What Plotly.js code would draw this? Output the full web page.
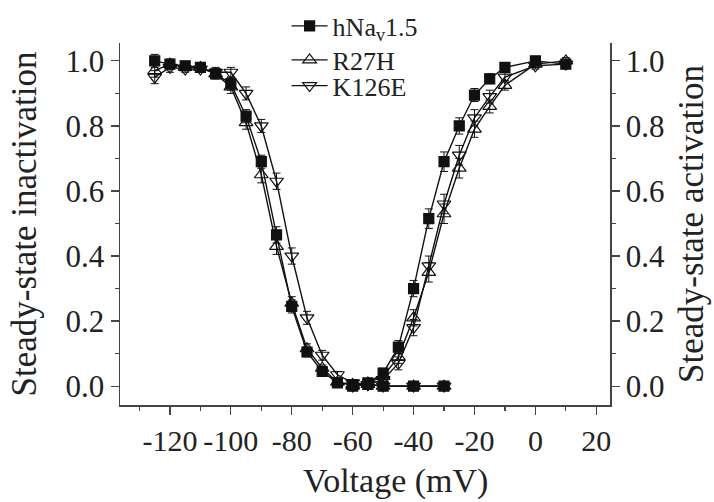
<!DOCTYPE html>
<html>
<head>
<meta charset="utf-8">
<script src="https://cdn.plot.ly/plotly-3.0.1.min.js"></script>
<style>html,body{margin:0;padding:0;background:#fff;}#chart{width:714px;height:502px;}</style>
</head>
<body>
<div id="chart"></div>
<script>
// Steady-state inactivation (left axis)
var inactVoltage = [-125,-120,-115,-110,-105,-100,-95,-90,-85,-80,-75,-70,-65,-60,-55,-50,-40,-30];
var inactWT    = [1.00,0.99,0.985,0.98,0.96,0.93,0.83,0.69,0.465,0.245,0.105,0.045,0.01,0.005,0.005,0.0,0.0,0.0];
var inactWTerr = [0.02,0.015,0.01,0.01,0.015,0.02,0.02,0.02,0.025,0.02,0.015,0.01,0.01,0.01,0.01,0.01,0.01,0.01];
var inactR27H    = [0.97,0.99,0.98,0.98,0.96,0.92,0.81,0.65,0.43,0.255,0.115,0.055,0.012,0.005,0.005,0.0,0.0,0.0];
var inactR27Herr = [0.02,0.015,0.01,0.01,0.015,0.02,0.02,0.025,0.025,0.02,0.015,0.01,0.01,0.01,0.01,0.01,0.01,0.01];
var inactK126E    = [0.95,0.98,0.975,0.975,0.965,0.965,0.90,0.80,0.63,0.40,0.21,0.095,0.035,0.01,0.005,0.0,0.0,0.0];
var inactK126Eerr = [0.02,0.015,0.01,0.01,0.015,0.015,0.02,0.02,0.025,0.025,0.02,0.015,0.01,0.01,0.01,0.01,0.01,0.01];

// Steady-state activation (right axis)
var actVoltage = [-60,-55,-50,-45,-40,-35,-30,-25,-20,-15,-10,0,10];
var actWT    = [0.0,0.01,0.04,0.12,0.30,0.515,0.69,0.80,0.895,0.945,0.98,1.0,0.99];
var actWTerr = [0.01,0.01,0.015,0.02,0.025,0.03,0.03,0.025,0.02,0.015,0.01,0.01,0.01];
var actR27H    = [0.0,0.01,0.03,0.09,0.21,0.35,0.53,0.67,0.79,0.86,0.925,0.99,1.0];
var actR27Herr = [0.01,0.01,0.015,0.02,0.025,0.03,0.03,0.03,0.025,0.02,0.015,0.01,0.01];
var actK126E    = [0.0,0.005,0.02,0.07,0.18,0.37,0.56,0.71,0.825,0.89,0.95,0.985,0.99];
var actK126Eerr = [0.01,0.01,0.015,0.02,0.025,0.03,0.03,0.03,0.025,0.02,0.015,0.01,0.01];

var seriesNames = ['hNa<sub>v</sub>1.5', 'R27H', 'K126E'];
var symbols = ['square', 'triangle-up-open', 'triangle-down-open'];
var legendIds = ['legend', 'legend2', 'legend3'];

function mk(x, y, err, i, axis, show) {
  return {
    x: x, y: y, type: 'scatter', mode: 'lines+markers',
    name: seriesNames[i], legendgroup: 'g' + i, showlegend: show, legend: legendIds[i],
    yaxis: axis,
    line: {color: '#111', width: 1.4},
    marker: {symbol: symbols[i], size: i === 0 ? 10 : 12, color: '#111', line: {color: '#111', width: 1.2}},
    error_y: {type: 'data', array: err, visible: true, color: '#111', thickness: 1, width: 4}
  };
}

var data = [
  mk(inactVoltage, inactWT, inactWTerr, 0, 'y', true),
  mk(inactVoltage, inactR27H, inactR27Herr, 1, 'y', true),
  mk(inactVoltage, inactK126E, inactK126Eerr, 2, 'y', true),
  mk(actVoltage, actWT, actWTerr, 0, 'y2', false),
  mk(actVoltage, actR27H, actR27Herr, 1, 'y2', false),
  mk(actVoltage, actK126E, actK126Eerr, 2, 'y2', false)
];

var fontFam = 'Liberation Serif, Times New Roman, serif';
var yTicks = [0, 0.2, 0.4, 0.6, 0.8, 1.0];
var yTickText = ['0.0', '0.2', '0.4', '0.6', '0.8', '1.0'];

var yBase = {
  range: [-0.058, 1.055], tickvals: yTicks, ticktext: yTickText,
  ticks: 'outside', ticklen: 8, tickwidth: 1.2, tickcolor: '#444',
  showline: true, linecolor: '#444', linewidth: 1.5,
  showgrid: false, zeroline: false,
  tickfont: {family: fontFam, size: 31, color: '#222'},
  minor: {dtick: 0.1, ticks: 'outside', ticklen: 4, tickcolor: '#444', showgrid: false}
};

function leg(yc) {
  return {x: 0.34, y: yc, xanchor: 'left', yanchor: 'middle', bgcolor: 'rgba(0,0,0,0)',
          font: {family: fontFam, size: 26, color: '#222'}, itemwidth: 36,
          borderwidth: 0};
}

var layout = {
  width: 714, height: 502,
  margin: {l: 120, r: 104, t: 43, b: 97, autoexpand: false},
  paper_bgcolor: '#fff', plot_bgcolor: '#fff',
  font: {family: fontFam, color: '#222'},
  showlegend: true,
  legend: leg(1.047),
  legend2: leg(0.953),
  legend3: leg(0.882),
  xaxis: {
    range: [-136.4, 24.5], tickvals: [-120,-100,-80,-60,-40,-20,0,20],
    ticktext: ['-120','-100','-80','-60','-40','-20','0','20'],
    ticks: 'outside', ticklen: 8, tickwidth: 1.2, tickcolor: '#444',
    showline: true, linecolor: '#444', linewidth: 1.5,
    showgrid: false, zeroline: false,
    tickfont: {family: fontFam, size: 30, color: '#222'},
    minor: {dtick: 10, ticks: 'outside', ticklen: 4, tickcolor: '#444', showgrid: false}
  },
  yaxis: Object.assign({}, yBase, {
    side: 'left',
    title: {text: 'Steady-state inactivation', font: {family: fontFam, size: 35, color: '#222'}, standoff: 18}
  }),
  yaxis2: Object.assign({}, yBase, {
    side: 'right', overlaying: 'y',
    title: {text: 'Steady-state activation', font: {family: fontFam, size: 35, color: '#222'}, standoff: 14}
  }),
  annotations: [{
    text: 'Voltage (mV)', xref: 'paper', yref: 'paper', x: 0.563, y: -0.21,
    xanchor: 'center', yanchor: 'middle', showarrow: false,
    font: {family: fontFam, size: 34, color: '#222'}
  }]
};

Plotly.newPlot('chart', data, layout, {displayModeBar: false, staticPlot: true});
</script>
</body>
</html>
